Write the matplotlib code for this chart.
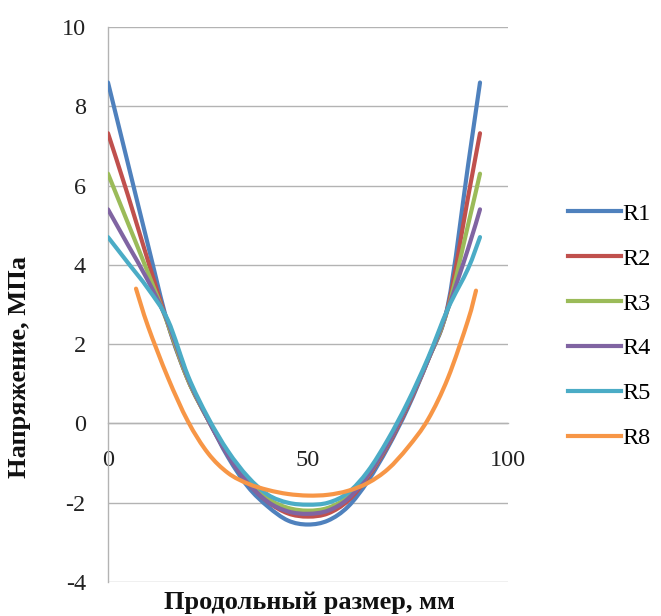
import matplotlib
matplotlib.use("Agg")
import matplotlib.pyplot as plt
import numpy as np
from matplotlib.path import Path
from matplotlib.patches import PathPatch
from matplotlib.lines import Line2D

plt.rcParams['font.family'] = ['Liberation Serif', 'DejaVu Serif']

# ---- data ----
x_main = [0, 5, 10, 15, 20, 25, 30, 35, 40, 45, 50, 55, 60, 65, 70, 75, 80, 85, 90, 93]
R1 = [8.6, 6.55, 4.5, 2.5, 1.1, 0.1, -0.85, -1.6, -2.1, -2.45, -2.55, -2.45, -2.1, -1.45, -0.6, 0.4, 1.6, 3.0, 6.5, 8.6]
R2 = [7.32, 5.75, 4.1, 2.5, 1.1, 0.1, -0.8, -1.5, -1.98, -2.27, -2.35, -2.27, -1.95, -1.35, -0.55, 0.45, 1.6, 2.95, 5.7, 7.32]
R3 = [6.3, 5.05, 3.8, 2.5, 1.1, 0.1, -0.75, -1.45, -1.9, -2.13, -2.2, -2.13, -1.85, -1.3, -0.5, 0.5, 1.6, 2.9, 5.0, 6.3]
R4 = [5.4, 4.5, 3.6, 2.55, 1.15, 0.1, -0.8, -1.5, -1.98, -2.22, -2.28, -2.2, -1.9, -1.3, -0.5, 0.5, 1.6, 2.9, 4.4, 5.4]
R5 = [4.7, 4.05, 3.4, 2.6, 1.2, 0.15, -0.7, -1.35, -1.8, -2.0, -2.05, -2.0, -1.75, -1.2, -0.4, 0.55, 1.65, 2.9, 3.9, 4.7]
x_r8 = [7, 10, 15, 20, 25, 30, 35, 40, 45, 50, 55, 60, 65, 70, 75, 80, 85, 90, 92]
R8 = [3.4, 2.45, 1.15, 0.05, -0.75, -1.25, -1.52, -1.68, -1.78, -1.82, -1.8, -1.7, -1.5, -1.15, -0.6, 0.1, 1.15, 2.6, 3.35]

series_names = ['R1', 'R2', 'R3', 'R4', 'R5', 'R8']
colors = ['#4F81BD', '#C0504D', '#9BBB59', '#8064A2', '#4BACC6', '#F79646']
series = [(x_main, R1), (x_main, R2), (x_main, R3), (x_main, R4), (x_main, R5), (x_r8, R8)]

x_ticks = [0, 50, 100]
y_ticks = [-4, -2, 0, 2, 4, 6, 8, 10]


def smooth_path(xs, ys):
    """Excel-like smoothed line: cubic Bezier through the data points."""
    p = np.column_stack([xs, ys]).astype(float)
    n = len(p)
    verts = [p[0]]
    codes = [Path.MOVETO]
    for i in range(n - 1):
        p0 = p[i - 1] if i > 0 else p[i]
        p1 = p[i]
        p2 = p[i + 1]
        p3 = p[i + 2] if i + 2 < n else p[i + 1]
        c1 = p1 + (p2 - p0) / 6.0
        c2 = p2 - (p3 - p1) / 6.0
        verts += [c1, c2, p2]
        codes += [Path.CURVE4] * 3
    return Path(verts, codes)


W, H = 661, 616
fig = plt.figure(figsize=(W / 100, H / 100), dpi=100)
ax = fig.add_axes([108 / W, 1 - 582 / H, 400 / W, 555 / H])

ax.set_xlim(0, 100)
ax.set_ylim(-4, 10)

for (xs, ys), c in zip(series, colors):
    patch = PathPatch(smooth_path(xs, ys), facecolor='none', edgecolor=c,
                      lw=3.0, capstyle='round', joinstyle='round', zorder=3)
    ax.add_patch(patch)

grid_c = '#B3B3B3'
ax.set_yticks(y_ticks)
ax.yaxis.grid(True, color=grid_c, lw=1.0)
ax.set_axisbelow(True)
for s in ['top', 'right', 'bottom']:
    ax.spines[s].set_visible(False)
ax.spines['left'].set_color(grid_c)
ax.spines['left'].set_linewidth(1.0)

ax.tick_params(axis='y', length=0, pad=16, labelsize=17.5, labelcolor='#222222')
ax.set_yticklabels([str(v) for v in y_ticks])

# x axis crosses at y = 0
ax.spines['bottom'].set_visible(True)
ax.spines['bottom'].set_position(('data', 0))
ax.spines['bottom'].set_color(grid_c)
ax.spines['bottom'].set_linewidth(1.0)
ax.set_xticks(x_ticks)
ax.set_xticklabels([str(v) for v in x_ticks])
ax.tick_params(axis='x', length=0, pad=19, labelsize=17.5, labelcolor='#222222')

fig.text(20 / W, 1 - 367 / H, 'Напряжение, МПа', rotation=90, ha='center', va='center',
         fontsize=19, fontweight='bold', color='#111111')
fig.text(309 / W, 1 - 602 / H, 'Продольный размер, мм', ha='center', va='center',
         fontsize=19, fontweight='bold', color='#111111')

handles = [Line2D([0], [0], color=c, lw=3.0) for c in colors]
fig.legend(handles, series_names, loc='center left', bbox_to_anchor=(568 / W, 1 - 326 / H),
           frameon=False, fontsize=17.5, handlelength=2.2, handletextpad=0.05,
           labelspacing=0.94, borderaxespad=0, borderpad=0)

fig.savefig('out.png', dpi=100)
